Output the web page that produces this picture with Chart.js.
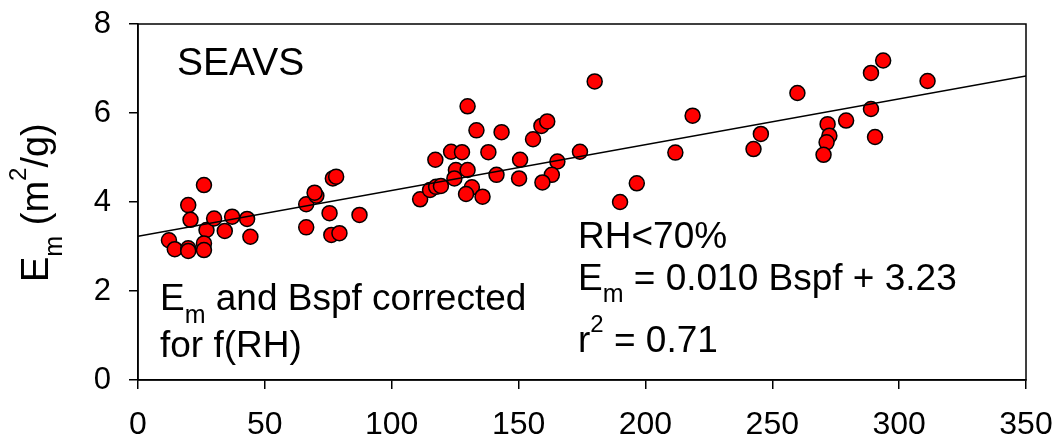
<!DOCTYPE html>
<html>
<head>
<meta charset="utf-8">
<script src="https://cdn.jsdelivr.net/npm/chart.js@4/dist/chart.umd.min.js"></script>
<style>
  html, body { margin: 0; padding: 0; background: #fff; }
  canvas { display: block; }
</style>
</head>
<body>
<canvas id="chart" width="1057" height="443"></canvas>
<script>
// Bspf (x) and Em (y)
const bspf = [12.2, 14.5, 19.8, 20.7, 19.8, 19.8, 26.0, 27.0, 26.0, 26.0,
              30.0, 34.2, 37.1, 43.0, 44.3, 66.3, 70.3, 69.6, 66.3, 75.5,
              76.8, 78.1, 76.2, 79.4, 87.3, 111.2, 115.1, 117.5, 119.4, 117.2,
              123.4, 127.7, 125.3, 124.7, 129.9, 129.9, 133.4, 143.3, 138.1, 131.6,
              129.3, 135.8, 141.3, 150.6, 150.2, 155.7, 159.0, 161.3, 165.3, 163.1,
              159.4, 174.2, 180.0, 218.6, 211.8, 242.6, 245.5, 259.9, 271.8, 272.5,
              271.4, 270.2, 279.1, 288.9, 293.7, 288.9, 290.5, 311.2, 190.0, 196.6];
const em = [3.14, 2.94, 3.93, 3.60, 2.96, 2.90, 4.38, 3.37, 3.07, 2.92,
            3.63, 3.35, 3.67, 3.62, 3.22, 3.95, 4.14, 4.21, 3.43, 3.75,
            4.53, 4.57, 3.26, 3.30, 3.71, 4.06, 4.27, 4.34, 4.36, 4.95,
            5.13, 5.12, 4.72, 4.53, 4.72, 6.15, 5.61, 5.57, 5.12, 4.33,
            4.18, 4.12, 4.61, 4.95, 4.53, 5.41, 5.71, 5.81, 4.91, 4.61,
            4.44, 5.13, 6.71, 5.94, 5.11, 5.19, 5.53, 6.45, 5.75, 5.49,
            5.34, 5.06, 5.83, 6.90, 7.18, 6.09, 5.46, 6.72, 4.00, 4.42];

// regression line end points
const fitX = [0, 350];
const fitY = [3.23, 6.83];

const xTicks = [0, 50, 100, 150, 200, 250, 300, 350];
const yTicks = [0, 2, 4, 6, 8];

const FONT = '"Liberation Sans", Arial, sans-serif';

// draw a line of text made of pieces with different sizes / offsets (sub, sup)
function drawRuns(ctx, runs, x, y) {
    let cx = x;
    runs.forEach(r => {
        ctx.font = r.size + 'px ' + FONT;
        ctx.fillText(r.t, cx, y + (r.dy || 0));
        cx += ctx.measureText(r.t).width;
    });
}

const annotations = {
    id: 'annotations',
    afterDraw(chart) {
        const ctx = chart.ctx;
        const a = chart.chartArea;
        ctx.save();
        // box around plot
        ctx.strokeStyle = '#000';
        ctx.lineWidth = 1.5;
        ctx.strokeRect(a.left, a.top, a.right - a.left, a.bottom - a.top);

        ctx.fillStyle = '#000';
        ctx.textBaseline = 'alphabetic';
        ctx.textAlign = 'left';

        drawRuns(ctx, [{t: 'SEAVS', size: 39}], 177, 75);

        drawRuns(ctx, [{t: 'RH<70%', size: 37}], 578, 248);
        drawRuns(ctx, [{t: 'E', size: 37}, {t: 'm', size: 25, dy: 12},
                       {t: ' = 0.010 Bspf + 3.23', size: 37}], 578, 290);
        drawRuns(ctx, [{t: 'r', size: 37}, {t: '2', size: 24, dy: -20},
                       {t: ' = 0.71', size: 37}], 578, 352);

        drawRuns(ctx, [{t: 'E', size: 37}, {t: 'm', size: 25, dy: 13},
                       {t: ' and Bspf corrected', size: 37}], 160, 310);
        drawRuns(ctx, [{t: 'for f(RH)', size: 37}], 160, 357);

        // y axis title, rotated
        ctx.translate(48, 282);
        ctx.rotate(-Math.PI / 2);
        drawRuns(ctx, [{t: 'E', size: 38}, {t: 'm', size: 25, dy: 14},
                       {t: ' (m', size: 38}, {t: '2', size: 24, dy: -22},
                       {t: '/g)', size: 38}], 0, 0);
        ctx.restore();
    }
};

const points = bspf.map((x, i) => ({x: x, y: em[i]}));
const fitLine = fitX.map((x, i) => ({x: x, y: fitY[i]}));

new Chart(document.getElementById('chart'), {
    type: 'scatter',
    data: {
        datasets: [{
            type: 'line',
            data: fitLine,
            borderColor: '#000',
            borderWidth: 1.5,
            pointRadius: 0,
            fill: false
        }, {
            data: points,
            backgroundColor: '#ff0000',
            borderColor: '#000',
            borderWidth: 1.5,
            pointRadius: 7.5
        }]
    },
    options: {
        responsive: false,
        animation: false,
        devicePixelRatio: 1,
        layout: { padding: { top: 24, right: 31, left: 0, bottom: 0 } },
        plugins: {
            legend: { display: false },
            tooltip: { enabled: false }
        },
        scales: {
            x: {
                type: 'linear',
                min: 0,
                max: 350,
                afterBuildTicks: s => { s.ticks = xTicks.map(v => ({value: v})); },
                afterFit: s => { s.height = 63; s.paddingLeft = 0; s.paddingRight = 0; },
                ticks: { color: '#000', font: { size: 32, family: FONT }, padding: 17, maxRotation: 0 },
                grid: { drawOnChartArea: false, drawTicks: true, tickLength: 9, color: '#000', lineWidth: 1.5 },
                border: { color: '#000', width: 1.5 }
            },
            y: {
                type: 'linear',
                min: 0,
                max: 8,
                afterBuildTicks: s => { s.ticks = yTicks.map(v => ({value: v})); },
                afterFit: s => { s.width = 138; s.paddingTop = 0; s.paddingBottom = 0; },
                ticks: { color: '#000', font: { size: 31, family: FONT }, padding: 18 },
                grid: { drawOnChartArea: false, drawTicks: true, tickLength: 9, color: '#000', lineWidth: 1.5 },
                border: { color: '#000', width: 1.5 }
            }
        }
    },
    plugins: [annotations]
});
</script>
</body>
</html>
